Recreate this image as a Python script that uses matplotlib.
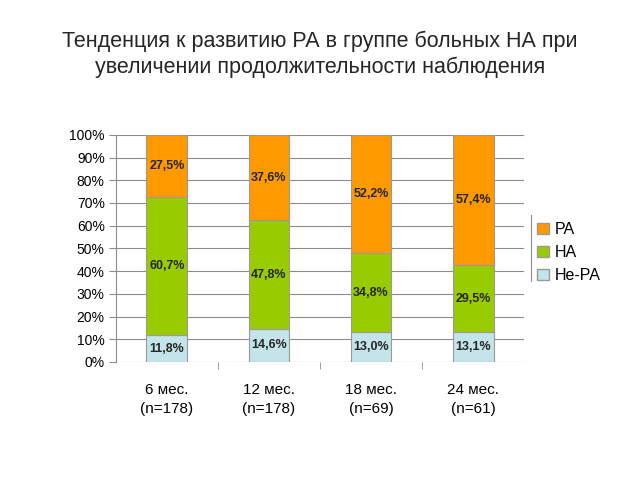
import matplotlib
matplotlib.use("Agg")
import matplotlib.pyplot as plt
from matplotlib.lines import Line2D
from matplotlib.patches import Patch
import numpy as np

plt.rcParams['font.family'] = ['Liberation Sans', 'DejaVu Sans']

# --- data --------------------------------------------------------------------
categories = ["6 мес.\n(n=178)", "12 мес.\n(n=178)", "18 мес.\n(n=69)", "24 мес.\n(n=61)"]
ne_ra = [11.8, 14.6, 13.0, 13.1]
na = [60.7, 47.8, 34.8, 29.5]
ra = [27.5, 37.6, 52.2, 57.4]

series = [("Не-РА", ne_ra, "#c3e4e8"), ("НА", na, "#99cc00"), ("РА", ra, "#ff9900")]

fig = plt.figure(figsize=(6.4, 4.8), dpi=100)
ax = fig.add_axes([0.181, 0.246, 0.638, 0.473])

x = np.arange(len(categories))
bottom = np.zeros(len(categories))
for name, vals, color in series:
    vals = np.array(vals)
    ax.bar(x, vals, 0.4, bottom=bottom, color=color, edgecolor="#9a9a9a",
           linewidth=0.8, zorder=3)
    for xi, b, v in zip(x, bottom, vals):
        ax.text(xi, b + v / 2, f"{v:.1f}%".replace(".", ","), ha="center",
                va="center", fontsize=9, fontweight="bold", color="#262626", zorder=4)
    bottom += vals

ax.set_xlim(-0.5, len(categories) - 0.5)
ax.set_ylim(0, 100)
ax.set_yticks(np.arange(0, 101, 10))
ax.set_yticklabels([f"{v}%" for v in range(0, 101, 10)], fontsize=10)
ax.yaxis.grid(True, color="#8c8c8c", linewidth=0.8, zorder=0)

ax.set_xticks(x)
ax.set_xticklabels(categories, fontsize=11, linespacing=1.5)
ax.tick_params(axis="x", length=0, pad=15)
ax.set_xticks(np.arange(0.5, len(categories) - 1, 1), minor=True)
ax.tick_params(axis="x", which="minor", length=5, color="#8c8c8c")
ax.tick_params(axis="y", length=5, color="#8c8c8c", pad=3)

for s in ["top", "right", "bottom"]:
    ax.spines[s].set_visible(False)
ax.spines["left"].set_color("#8c8c8c")

# legend
handles = [Patch(facecolor=c, edgecolor="#9a9a9a", label=n) for n, _, c in reversed(series)]
leg = fig.legend(handles=handles, loc="center left", bbox_to_anchor=(0.816, 0.474),
                 frameon=False, fontsize=11.5, handlelength=0.75, handleheight=0.75,
                 handletextpad=0.4, labelspacing=0.5)
fig.add_artist(Line2D([0.829, 0.829], [0.415, 0.553], color="#8c8c8c", linewidth=0.8))

fig.suptitle("Тенденция к развитию РА в группе больных НА при\n"
             "увеличении продолжительности наблюдения",
             y=0.935, fontsize=15.5, color="#262626", linespacing=1.25)

fig.savefig("out.png", dpi=100)
